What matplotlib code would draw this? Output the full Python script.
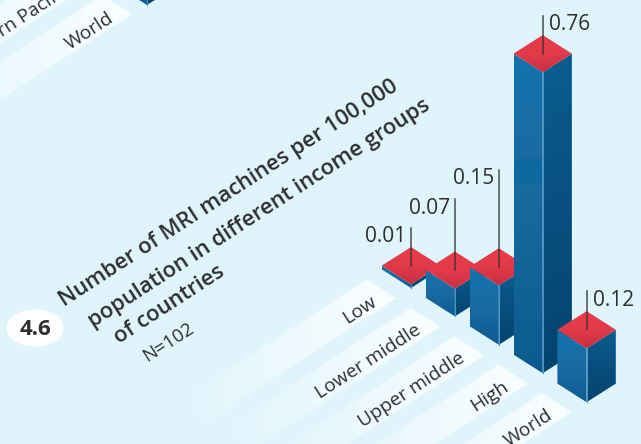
import numpy as np
from matplotlib import pyplot as plt
from matplotlib.colors import LinearSegmentedColormap
from matplotlib.patches import Ellipse, Polygon

plt.rcParams["font.family"] = ["Open Sans", "DejaVu Sans"]

categories = ["Low", "Lower middle", "Upper middle", "High", "World"]
value_labels = ["0.01", "0.07", "0.15", "0.76", "0.12"]
# heights as drawn, the World bar stands a little taller than its label says
values = [0.0095, 0.07, 0.15, 0.76, 0.136]

BG = "#e0f4fc"
TEXT = "#2e2e2e"
PX_PER_UNIT = 396
STEP = (43.9, 28.4)  # one category along the floor
HW, HH = 29.2, 18.6  # half size of the diamond
ROT = 33
stems = [38, 71, 97, 38, 38]
label_right = [False, False, False, True, True]

LEFT_FACE = ["#1273ad", "#1a6ba3", "#0d5c93"]
# the tall bar has a slightly stronger strip in its left face
LEFT_FACE_TALL = [(0, "#1273ad"), (0.33, "#1c6aa2"), (0.33, "#0f68a0"), (0.41, "#0f68a0"),
                  (0.41, "#1a699f"), (1, "#0c5b90")]

fig = plt.figure(figsize=(6.41, 4.44), dpi=100, facecolor=BG)
ax = fig.add_axes([0, 0, 1, 1])
ax.set_xlim(0, 641)
ax.set_ylim(444, 0)
ax.axis("off")
ax.autoscale(False)


def grad_poly(pts, colors, z, horizontal=False):
    # fill a polygon with a gradient by clipping an image to it
    pts = np.array(pts)
    cmap = LinearSegmentedColormap.from_list("g", colors, N=512)
    g = np.linspace(0, 1, 512)
    g = g[None, :] if horizontal else g[:, None]
    im = ax.imshow(g, cmap=cmap, vmin=0, vmax=1, aspect="auto", zorder=z, interpolation="bilinear",
                   extent=(pts[:, 0].min(), pts[:, 0].max(), pts[:, 1].max(), pts[:, 1].min()))
    im.set_clip_path(Polygon(pts, transform=ax.transData))


def band(rx, ry, label, tx, ty):
    # label strip, fades out to the lower left
    length = 190
    pts = [(rx, ry), (rx - HW, ry - 19.2), (rx - HW - length, ry - 19.2 + length * 0.65), (rx - length, ry + length * 0.65)]
    grad_poly(pts, [BG, "#fbfeff"], 1, horizontal=True)
    ax.text(tx, ty, label, rotation=ROT, rotation_mode="anchor", ha="right", va="center",
            fontsize=13.8, color=TEXT, zorder=2)


def bar(cx, base, h, z, left_colors=LEFT_FACE):
    front = base - h
    left = [(cx - HW, front - HH), (cx, front), (cx, base), (cx - HW, base - HH)]
    right = [(cx, front), (cx + HW, front - HH), (cx + HW, base - HH), (cx, base)]
    grad_poly(left, left_colors, z)
    grad_poly(right, ["#0b5d90", "#084f7f", "#03446e"], z)
    ax.plot([cx, cx], [front, base], color="#4a94c2", lw=0.8, zorder=z + 0.1)
    top = [(cx - HW, front - HH), (cx, front - 2 * HH), (cx + HW, front - HH), (cx, front)]
    grad_poly(top, ["#e83c4c", "#e23a4a", "#c93040"], z + 0.2)


# strips of the chart above this one, cut by the top edge
band(131.7, 14.3, "World", 112, 17)
band(87.8, -14.1, "Western Pacific", 68, -11.4)
bar(147, 5, 60, 3)

for i, cat in enumerate(categories):
    band(396 + i * STEP[0], 298.5 + i * STEP[1], cat, 375 + i * STEP[0], 300 + i * STEP[1])

for i, v in enumerate(values):
    cx = 411 + i * STEP[0]
    base = 288 + i * STEP[1]
    if i == 4:
        base += 0.6
    bar(cx, base, v * PX_PER_UNIT, 5 + i, LEFT_FACE_TALL if i == 3 else LEFT_FACE)

for i, v in enumerate(values):
    cx = 411 + i * STEP[0]
    centre = 288 + i * STEP[1] - v * PX_PER_UNIT - HH
    top = centre - stems[i]
    ax.plot([cx, cx], [top, centre], color="#333333", lw=1.1, zorder=20, alpha=0.85)
    if label_right[i]:
        ax.text(cx + 6, top + 9, value_labels[i], ha="left", va="center", fontsize=15, color=TEXT, zorder=20)
    else:
        ax.text(cx - 5, top + 9, value_labels[i], ha="right", va="center", fontsize=15, color=TEXT, zorder=20)

title_lines = ["Number of MRI machines per 100,000", "population in different income groups", "of countries"]
title_pos = [(64, 307), (93, 328), (119, 344)]
for line, (x, y) in zip(title_lines, title_pos):
    ax.text(x, y, line, rotation=ROT, rotation_mode="anchor", ha="left", va="baseline",
            fontsize=15.8, fontweight=600, color=TEXT, zorder=20)
ax.text(147, 362, "N=102", rotation=ROT, rotation_mode="anchor", ha="left", va="baseline",
        fontsize=13.5, color=TEXT, zorder=20)

ax.add_patch(Ellipse((35, 328), 57, 37, facecolor="white", edgecolor="none", zorder=20))
ax.text(35, 329, "4.6", ha="center", va="center", fontsize=16, fontweight="bold", color=TEXT, zorder=21)

ax.set_xlim(0, 641)
ax.set_ylim(444, 0)
fig.savefig("out.png", dpi=100, facecolor=BG)
